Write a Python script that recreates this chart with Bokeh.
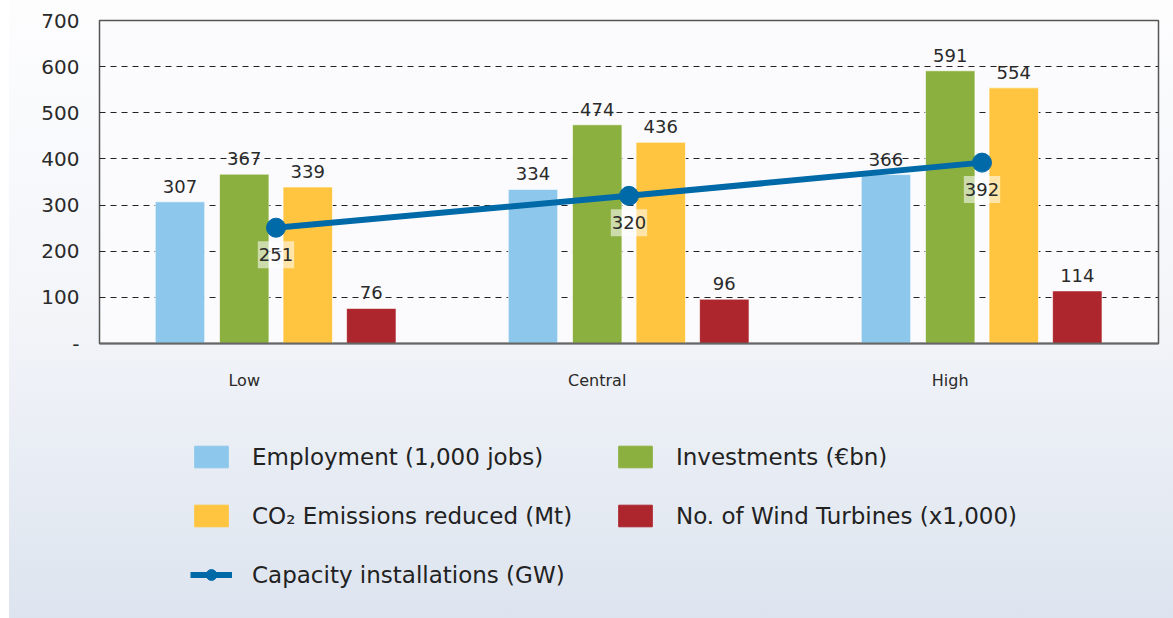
from bokeh.plotting import figure
from bokeh.models import (ColumnDataSource, FixedTicker, Range1d, Legend,
                          LegendItem, LabelSet)
from bokeh.layouts import column
from bokeh.embed import file_html
from bokeh.resources import INLINE
from bokeh.core.properties import value

# ---------------- data ----------------
scenarios = ["Low", "Central", "High"]
employment = [307, 334, 366]
investments = [367, 474, 591]
co2_reduced = [339, 436, 554]
turbines = [76, 96, 114]
capacity = [251, 320, 392]

series_names = ["Employment (1,000 jobs)", "Investments (\u20acbn)",
                "CO\u2082 Emissions reduced (Mt)", "No. of Wind Turbines (x1,000)"]
line_name = "Capacity installations (GW)"
y_tick_values = [0, 100, 200, 300, 400, 500, 600, 700]
y_tick_labels = ["-", "100", "200", "300", "400", "500", "600", "700"]

# ---------------- style ----------------
FONT = "DejaVu Sans"
colors = ["#8DC8EC", "#8CB040", "#FFC540", "#AD262D"]
line_color = "#0069A7"
offsets = [-0.272, -0.09, 0.09, 0.27]
bar_w = 0.14
TXT = "#2a2a2a"

W = 1164
H1, H2 = 395, 223

p = figure(width=W, height=H1, x_range=Range1d(0, 3), y_range=Range1d(0, 700),
           output_backend="svg", toolbar_location=None,
           min_border_left=90, min_border_right=15, min_border_top=20,
           min_border_bottom=52)
p.border_fill_color = None
p.border_fill_alpha = 0
p.background_fill_color = "#fbfbfd"
p.outline_line_color = "#555555"
p.outline_line_width = 1.5

centers = [i + 0.5 for i in range(len(scenarios))]

all_series = [employment, investments, co2_reduced, turbines]
for k, vals in enumerate(all_series):
    src = ColumnDataSource(dict(x=[c + offsets[k] for c in centers], top=vals,
                                lab=[str(v) for v in vals]))
    p.vbar(x="x", top="top", width=bar_w, bottom=0, source=src,
           fill_color=colors[k], line_color="white", line_alpha=0.6, line_width=1)
    lbl = LabelSet(x="x", y="top", text="lab", source=src, text_align="center",
                   text_baseline="bottom", y_offset=9, text_font=value(FONT),
                   text_font_size="18px", text_color=TXT)
    p.add_layout(lbl)

lsrc = ColumnDataSource(dict(x=centers, y=capacity, lab=[str(v) for v in capacity]))
p.line("x", "y", source=lsrc, line_color=line_color, line_width=6)
p.scatter("x", "y", source=lsrc, size=19, fill_color=line_color, line_color=line_color)
p.text(x="x", y="y", text="lab", source=lsrc, text_align="center",
       text_baseline="middle", y_offset=27, text_font=value(FONT),
       text_font_size="18px", text_color=TXT,
       background_fill_color="white", background_fill_alpha=0.55,
       padding=(1, 7))

# ---------------- axes ----------------
p.yaxis.ticker = FixedTicker(ticks=y_tick_values)
p.yaxis.major_label_overrides = {v: s for v, s in zip(y_tick_values, y_tick_labels)}
p.yaxis.major_label_text_font = FONT
p.yaxis.major_label_text_font_size = "20px"
p.yaxis.major_label_text_color = TXT
p.yaxis.axis_line_color = None
p.yaxis.major_tick_line_color = None
p.yaxis.minor_tick_line_color = None
p.yaxis.major_tick_out = 0
p.yaxis.major_label_standoff = 20

x_ticks = [c - 0.09 for c in centers]
p.xaxis.ticker = FixedTicker(ticks=x_ticks)
p.xaxis.major_label_overrides = {t: s for t, s in zip(x_ticks, scenarios)}
p.xaxis.major_label_text_font = FONT
p.xaxis.major_label_text_font_size = "16px"
p.xaxis.major_label_text_color = TXT
p.xaxis.axis_line_color = "#666666"
p.xaxis.axis_line_width = 2
p.xaxis.major_tick_line_color = None
p.xaxis.minor_tick_line_color = None
p.xaxis.major_tick_out = 0
p.xaxis.major_label_standoff = 27

p.xgrid.grid_line_color = None
p.ygrid.ticker = FixedTicker(ticks=[100, 200, 300, 400, 500, 600])
p.ygrid.grid_line_color = "#222222"
p.ygrid.grid_line_dash = "6 5"
p.ygrid.grid_line_width = 1

# ---------------- legend (separate panel below the chart) ----------------
p2 = figure(width=W, height=H2, x_range=Range1d(0, 1), y_range=Range1d(0, 1),
            output_backend="svg", toolbar_location=None,
            min_border_left=0, min_border_right=0, min_border_top=0,
            min_border_bottom=0)
p2.axis.visible = False
p2.grid.visible = False
p2.outline_line_color = None
p2.border_fill_color = None
p2.border_fill_alpha = 0
p2.background_fill_color = None
p2.background_fill_alpha = 0

# proxy glyphs placed outside the visible range; they only feed the legend
proxy = ColumnDataSource(dict(x=[-10, -11], top=[-10, -10], y=[-10, -10]))
bar_r = [p2.vbar(x="x", top="top", width=0.1, source=proxy, fill_color=c,
                 line_color=c) for c in colors]
line_r = p2.line("x", "y", source=proxy, line_color=line_color, line_width=6)
dot_r = p2.scatter("x", "y", source=proxy, size=19, fill_color=line_color,
                   line_color=line_color)

items = [
    LegendItem(label=series_names[0], renderers=[bar_r[0]]),
    LegendItem(label=series_names[2], renderers=[bar_r[2]]),
    LegendItem(label=line_name, renderers=[line_r, dot_r]),
    LegendItem(label=series_names[1], renderers=[bar_r[1]]),
    LegendItem(label=series_names[3], renderers=[bar_r[3]]),
]
legend = Legend(items=items, location=(91, 30), orientation="vertical", nrows=3,
                glyph_width=42, glyph_height=27, label_height=27, label_width=330,
                spacing=32, label_standoff=20, padding=0, margin=0,
                label_text_font=FONT, label_text_font_size="23px",
                label_text_color="#222222", border_line_color=None,
                background_fill_alpha=0)
p2.add_layout(legend, "center")

layout = column(p, p2, spacing=0)
layout.styles = {"margin-left": "9px",
                 "background": "linear-gradient(180deg, #fdfdfe 0%, #f3f5f9 50%, #dde4ef 100%)"}

open("out.html", "w").write(file_html(layout, INLINE))
